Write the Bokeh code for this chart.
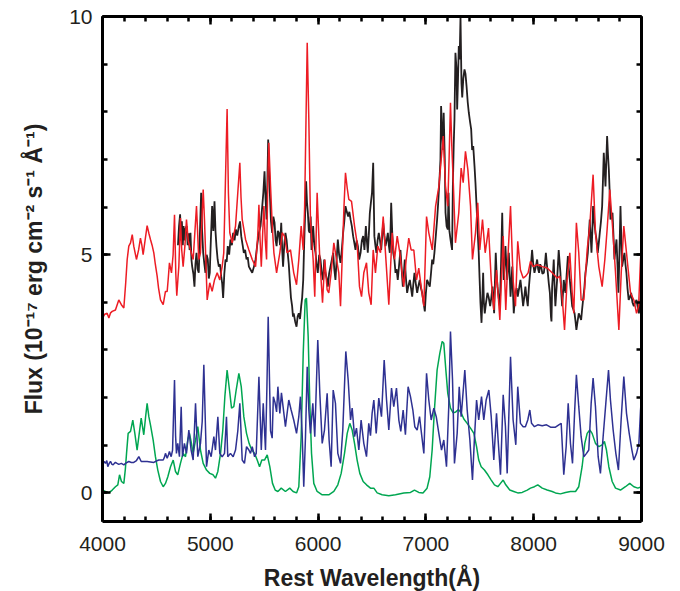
from bokeh.plotting import figure
from bokeh.models import LinearAxis, FixedTicker, Range1d
from bokeh.embed import file_html
from bokeh.resources import INLINE

# ---------------- data ----------------
red_wl = [4000, 4020, 4043, 4059, 4075, 4090, 4120, 4151, 4175, 4198, 4215, 4229, 4244, 4260, 4276, 4290,
          4315, 4335, 4352, 4365, 4377, 4395, 4414, 4430, 4445, 4460, 4476, 4490, 4507, 4520, 4538, 4563,
          4584, 4600, 4610, 4621, 4640, 4655, 4668, 4680, 4689, 4700, 4708, 4715, 4723, 4735, 4748, 4765,
          4779, 4795, 4816, 4841, 4872, 4893, 4909, 4934, 4946, 4971, 4995, 5017, 5039, 5064, 5088, 5110,
          5125, 5140, 5156, 5168, 5181, 5203, 5234, 5255, 5274, 5285, 5296, 5327, 5358, 5389, 5420, 5440,
          5451, 5462, 5473, 5485, 5497, 5510, 5522, 5533, 5543, 5559, 5575, 5590, 5615, 5645, 5667, 5688,
          5713, 5744, 5774, 5800, 5821, 5843, 5862, 5875, 5883, 5899, 5914, 5929, 5954, 5969, 5980, 5991,
          6003, 6016, 6041, 6062, 6084, 6099, 6121, 6146, 6171, 6192, 6208, 6223, 6240, 6254, 6270, 6285,
          6310, 6338, 6362, 6384, 6403, 6424, 6449, 6470, 6492, 6511, 6532, 6554, 6579, 6604, 6625, 6656,
          6687, 6709, 6734, 6758, 6779, 6795, 6817, 6841, 6863, 6888, 6913, 6934, 6956, 6981, 7006, 7027,
          7059, 7090, 7120, 7142, 7161, 7182, 7203, 7215, 7228, 7240, 7253, 7274, 7305, 7327, 7346, 7367,
          7389, 7414, 7432, 7460, 7481, 7500, 7525, 7550, 7581, 7606, 7630, 7655, 7686, 7717, 7741, 7763,
          7785, 7809, 7831, 7852, 7877, 7902, 7926, 7948, 7970, 7995, 8032, 8079, 8125, 8171, 8217, 8242,
          8264, 8286, 8310, 8335, 8357, 8372, 8396, 8418, 8440, 8465, 8496, 8520, 8551, 8573, 8604, 8635,
          8660, 8681, 8706, 8731, 8759, 8790, 8812, 8836, 8867, 8898, 8929, 8954, 8973, 8991, 9000]
red_flux = [3.67, 3.75, 3.77, 3.67, 3.78, 3.81, 3.84, 4.05, 3.95, 3.88, 4.40, 4.90, 5.18, 5.25, 5.42, 5.18,
            4.90, 5.10, 5.35, 5.20, 5.00, 5.30, 5.61, 5.45, 5.32, 5.20, 5.04, 4.80, 4.55, 4.30, 4.05, 3.95,
            4.23, 4.23, 4.50, 4.83, 4.62, 5.00, 5.84, 4.60, 4.14, 4.50, 4.75, 5.20, 5.77, 5.10, 4.75, 5.20,
            5.74, 5.30, 5.10, 4.90, 6.02, 4.90, 5.04, 6.37, 5.74, 4.05, 4.41, 4.23, 4.47, 4.62, 4.47, 4.75,
            5.04, 6.50, 8.06, 6.30, 5.46, 5.25, 5.60, 6.30, 6.93, 6.20, 5.74, 5.32, 5.10, 4.90, 4.75, 5.40,
            6.05, 5.30, 4.75, 5.40, 6.02, 5.30, 4.90, 6.50, 7.35, 6.43, 5.60, 5.04, 4.62, 5.04, 5.46, 5.39,
            5.04, 5.10, 4.62, 4.37, 4.90, 5.60, 5.10, 6.00, 7.14, 9.45, 7.84, 5.74, 4.90, 4.12, 5.20, 6.30,
            5.60, 4.90, 3.99, 4.90, 4.26, 4.20, 4.62, 5.25, 4.90, 4.62, 3.92, 4.90, 6.00, 6.72, 6.40, 6.16,
            6.12, 5.60, 5.25, 4.33, 4.12, 4.62, 4.83, 4.20, 3.95, 5.10, 4.62, 5.18, 5.04, 5.80, 5.04, 3.95,
            5.46, 4.90, 5.39, 5.04, 4.62, 4.33, 4.90, 5.35, 5.10, 5.10, 4.47, 4.72, 4.33, 3.92, 5.80, 5.46,
            5.10, 6.02, 6.43, 7.00, 7.49, 6.43, 6.02, 7.00, 8.19, 7.30, 6.58, 5.25, 5.88, 6.82, 6.51, 7.17,
            6.79, 6.02, 4.90, 5.46, 6.09, 5.10, 5.74, 5.04, 5.56, 4.47, 3.84, 4.68, 3.63, 5.39, 3.84, 5.04,
            6.02, 4.47, 3.92, 5.28, 4.68, 4.51, 4.55, 4.62, 4.86, 4.75, 4.79, 4.75, 4.72, 4.62, 4.51, 4.55,
            4.12, 3.42, 4.47, 5.04, 4.20, 3.77, 5.67, 5.04, 4.05, 4.05, 5.10, 5.60, 6.68, 5.46, 4.75, 4.33,
            4.90, 5.53, 6.37, 5.60, 4.62, 3.42, 4.62, 5.60, 4.90, 4.20, 4.05, 3.77, 3.92, 4.90, 5.18]

black_wl = [4700, 4710, 4720, 4728, 4736, 4745, 4752, 4760, 4770, 4780, 4790, 4800, 4808, 4816, 4825, 4832,
            4843, 4853, 4862, 4872, 4882, 4893, 4903, 4915, 4924, 4934, 4945, 4955, 4966, 4977, 4986, 4995,
            5005, 5017, 5028, 5039, 5048, 5057, 5068, 5079, 5090, 5101, 5110, 5119, 5130, 5141, 5152, 5162,
            5175, 5187, 5200, 5212, 5225, 5237, 5250, 5265, 5276, 5287, 5300, 5311, 5323, 5336, 5347, 5358,
            5370, 5389, 5405, 5420, 5435, 5451, 5466, 5482, 5492, 5503, 5512, 5522, 5530, 5537, 5545, 5552,
            5563, 5574, 5585, 5596, 5606, 5615, 5626, 5636, 5647, 5658, 5667, 5675, 5686, 5697, 5708, 5718,
            5728, 5737, 5748, 5759, 5767, 5774, 5787, 5800, 5810, 5821, 5832, 5843, 5852, 5862, 5868, 5874,
            5882, 5889, 5897, 5905, 5914, 5923, 5931, 5939, 5947, 5954, 5965, 5976, 5986, 5997, 6010, 6022,
            6035, 6047, 6057, 6068, 6080, 6090, 6102, 6115, 6128, 6140, 6150, 6161, 6172, 6183, 6195, 6208,
            6220, 6232, 6243, 6254, 6266, 6279, 6290, 6301, 6313, 6325, 6336, 6347, 6358, 6369, 6381, 6394,
            6406, 6418, 6430, 6443, 6452, 6461, 6470, 6480, 6490, 6500, 6511, 6522, 6531, 6541, 6552, 6563,
            6574, 6585, 6595, 6604, 6615, 6625, 6636, 6647, 6656, 6665, 6672, 6678, 6687, 6697, 6708, 6718,
            6728, 6739, 6752, 6764, 6775, 6786, 6795, 6804, 6815, 6826, 6838, 6851, 6862, 6873, 6884, 6894,
            6906, 6919, 6931, 6943, 6954, 6965, 6978, 6990, 7000, 7011, 7024, 7036, 7047, 7058, 7068, 7079,
            7092, 7104, 7114, 7126, 7135, 7141, 7150, 7160, 7165, 7175, 7182, 7192, 7203, 7210, 7218, 7228,
            7236, 7243, 7250, 7258, 7265, 7274, 7284, 7290, 7298, 7305, 7313, 7321, 7330, 7337, 7347, 7358,
            7367, 7377, 7388, 7398, 7409, 7420, 7429, 7439, 7451, 7460, 7470, 7480, 7490, 7498, 7506, 7516,
            7524, 7531, 7538, 7546, 7558, 7571, 7583, 7596, 7607, 7618, 7626, 7633, 7640, 7648, 7656, 7664,
            7675, 7686, 7697, 7708, 7715, 7722, 7730, 7738, 7746, 7754, 7761, 7769, 7777, 7785, 7793, 7801,
            7808, 7815, 7823, 7831, 7842, 7852, 7865, 7877, 7890, 7902, 7912, 7923, 7934, 7945, 7955, 7964,
            7975, 7985, 7996, 8007, 8020, 8032, 8041, 8050, 8060, 8069, 8081, 8094, 8104, 8113, 8122, 8131,
            8140, 8150, 8160, 8165, 8171, 8179, 8186, 8194, 8201, 8209, 8217, 8225, 8232, 8240, 8248, 8256,
            8264, 8272, 8279, 8287, 8295, 8306, 8317, 8326, 8335, 8346, 8357, 8368, 8379, 8388, 8396, 8407,
            8418, 8429, 8440, 8449, 8458, 8470, 8480, 8491, 8502, 8511, 8520, 8528, 8536, 8544, 8551, 8562,
            8573, 8584, 8594, 8604, 8613, 8624, 8635, 8643, 8650, 8658, 8666, 8674, 8681, 8689, 8697, 8705,
            8712, 8722, 8731, 8740, 8749, 8758, 8768, 8777, 8786, 8795, 8805, 8812, 8820, 8831, 8842, 8851,
            8860, 8870, 8881, 8892, 8904, 8916, 8929, 8941, 8954, 8965, 8976, 8988, 9000]
black_flux = [5.20, 5.60, 5.85, 5.30, 5.70, 5.20, 5.60, 5.30, 5.55, 5.60, 5.20, 5.45, 5.10, 5.46, 4.90, 4.75,
              4.60, 4.33, 4.80, 5.04, 4.70, 4.62, 5.40, 6.30, 5.50, 5.04, 4.80, 4.62, 5.00, 4.90, 4.50, 4.62,
              5.30, 6.02, 5.50, 6.12, 5.50, 5.18, 4.90, 4.75, 4.80, 4.55, 4.40, 4.09, 4.60, 4.90, 4.85, 5.18,
              5.00, 5.32, 5.20, 5.46, 5.30, 5.53, 5.40, 5.60, 5.70, 5.39, 5.20, 5.04, 5.10, 4.90, 4.95, 4.75,
              4.70, 4.62, 4.75, 4.90, 5.20, 5.46, 5.60, 6.02, 6.30, 6.75, 6.20, 5.74, 6.60, 7.42, 6.80, 6.30,
              5.70, 5.46, 5.80, 5.67, 5.30, 5.18, 5.50, 5.46, 5.20, 5.67, 5.10, 4.75, 5.20, 5.46, 5.30, 5.04,
              4.80, 4.47, 4.10, 3.92, 3.70, 3.77, 3.60, 3.49, 3.70, 3.77, 3.65, 3.92, 4.10, 4.47, 5.00, 5.46,
              6.00, 6.54, 6.10, 5.88, 5.50, 5.46, 5.80, 5.10, 5.30, 5.60, 5.20, 5.04, 4.80, 4.62, 5.00, 4.90,
              4.60, 4.47, 4.90, 4.62, 4.50, 4.33, 4.60, 4.75, 4.90, 5.04, 4.70, 4.47, 4.90, 5.32, 5.00, 4.83,
              5.10, 5.46, 5.70, 6.02, 5.90, 5.80, 5.90, 5.74, 5.60, 5.39, 5.25, 5.10, 5.30, 5.18, 4.90, 5.04,
              5.30, 5.39, 5.10, 5.60, 5.30, 5.04, 5.40, 5.88, 6.10, 6.30, 6.93, 5.39, 5.20, 5.04, 5.30, 5.46,
              5.30, 5.10, 5.40, 5.67, 5.40, 5.18, 5.30, 5.46, 5.20, 5.04, 5.50, 6.09, 5.50, 5.04, 4.90, 4.62,
              4.70, 4.47, 4.80, 5.10, 4.70, 4.33, 4.60, 4.90, 4.50, 4.20, 4.35, 4.47, 4.30, 4.12, 4.40, 4.62,
              4.40, 4.20, 4.35, 4.47, 4.30, 4.20, 4.00, 3.81, 4.20, 4.47, 4.40, 4.33, 4.60, 4.90, 4.80, 5.04,
              5.40, 5.74, 6.09, 6.58, 7.00, 8.12, 7.60, 7.20, 7.98, 7.00, 5.88, 5.60, 5.53, 6.30, 5.50, 5.32,
              5.20, 5.10, 6.43, 7.30, 7.84, 9.24, 8.90, 8.05, 8.70, 9.38, 9.10, 10.0, 8.60, 8.30, 8.70, 8.89,
              8.80, 8.54, 8.20, 7.98, 7.80, 7.63, 7.20, 7.28, 6.86, 6.50, 6.02, 5.50, 5.04, 4.50, 3.99, 3.57,
              4.10, 4.62, 4.00, 3.77, 4.00, 4.20, 4.10, 3.92, 4.10, 4.33, 4.00, 3.77, 4.40, 5.04, 4.60, 4.33,
              4.10, 3.92, 4.80, 5.88, 5.00, 4.47, 4.80, 5.18, 4.80, 4.47, 4.70, 5.04, 4.60, 4.12, 4.40, 4.75,
              4.20, 3.77, 4.00, 4.20, 4.30, 4.12, 4.30, 4.47, 4.20, 3.92, 4.10, 4.33, 4.10, 3.92, 4.30, 4.55,
              4.80, 5.10, 4.80, 4.62, 4.75, 4.90, 4.70, 4.62, 4.80, 4.75, 4.60, 4.62, 4.80, 5.04, 4.80, 4.62,
              4.40, 4.20, 3.70, 3.60, 4.33, 4.60, 4.90, 4.30, 3.92, 4.20, 4.47, 4.80, 5.10, 4.85, 4.62, 4.20,
              3.92, 4.20, 4.47, 4.30, 4.20, 4.60, 4.97, 4.70, 4.47, 4.20, 3.92, 3.85, 3.77, 3.60, 3.42, 3.60,
              3.77, 3.70, 3.63, 3.85, 4.05, 4.30, 4.62, 4.80, 5.04, 5.40, 5.74, 5.40, 5.04, 5.50, 6.02, 5.70,
              5.46, 5.30, 5.04, 5.25, 5.46, 5.70, 6.02, 6.60, 7.14, 6.80, 6.43, 7.00, 7.49, 7.10, 6.79, 6.30,
              5.74, 5.80, 5.88, 5.40, 4.90, 5.10, 5.32, 4.80, 4.20, 5.00, 6.02, 5.40, 4.75, 4.90, 5.04, 4.80,
              4.62, 4.30, 4.05, 4.10, 4.20, 4.00, 3.92, 4.00, 4.05, 3.90, 3.77, 4.00, 4.33]

blue_wl = [4000, 4015, 4028, 4040, 4049, 4062, 4074, 4088, 4099, 4110, 4120, 4135, 4151, 4175, 4198, 4220,
           4244, 4268, 4290, 4315, 4337, 4359, 4385, 4414, 4445, 4476, 4500, 4522, 4545, 4563, 4575, 4584,
           4600, 4612, 4621, 4637, 4650, 4668, 4678, 4686, 4698, 4714, 4730, 4742, 4760, 4779, 4801, 4822,
           4841, 4863, 4884, 4909, 4925, 4940, 4965, 4986, 5008, 5033, 5048, 5070, 5088, 5110, 5132, 5150,
           5162, 5187, 5212, 5234, 5255, 5274, 5296, 5317, 5336, 5358, 5373, 5389, 5411, 5426, 5451, 5473,
           5491, 5512, 5525, 5537, 5559, 5574, 5585, 5600, 5615, 5627, 5645, 5660, 5675, 5697, 5728, 5750,
           5774, 5800, 5821, 5836, 5852, 5867, 5883, 5899, 5914, 5929, 5951, 5969, 5997, 6016, 6038, 6059,
           6084, 6102, 6121, 6140, 6161, 6183, 6208, 6229, 6257, 6279, 6301, 6316, 6338, 6356, 6378, 6399,
           6424, 6449, 6470, 6486, 6501, 6517, 6539, 6563, 6588, 6613, 6635, 6656, 6681, 6702, 6727, 6749,
           6767, 6789, 6810, 6835, 6857, 6879, 6897, 6919, 6941, 6959, 6981, 7006, 7027, 7049, 7074, 7096,
           7120, 7145, 7166, 7191, 7212, 7228, 7247, 7265, 7290, 7309, 7327, 7337, 7361, 7383, 7408, 7432,
           7451, 7470, 7490, 7516, 7537, 7559, 7584, 7606, 7630, 7655, 7670, 7692, 7717, 7738, 7754, 7785,
           7809, 7834, 7852, 7877, 7902, 7923, 7945, 7964, 7980, 8007, 8038, 8079, 8119, 8156, 8202, 8233,
           8255, 8279, 8301, 8320, 8341, 8360, 8379, 8396, 8418, 8440, 8465, 8490, 8511, 8533, 8551, 8573,
           8598, 8619, 8644, 8669, 8694, 8712, 8737, 8762, 8786, 8811, 8836, 8861, 8886, 8911, 8929, 8954,
           8976, 8991, 9000]
blue_flux = [0.59, 0.66, 0.62, 0.68, 0.55, 0.62, 0.66, 0.60, 0.59, 0.62, 0.64, 0.62, 0.60, 0.62, 0.59, 0.63,
             0.66, 0.64, 0.64, 0.68, 0.76, 0.66, 0.66, 0.66, 0.65, 0.64, 0.67, 0.69, 0.69, 0.69, 0.75, 0.83,
             0.73, 0.80, 0.87, 0.76, 0.90, 2.37, 1.20, 0.83, 1.04, 0.76, 1.81, 0.76, 1.04, 0.83, 1.32, 0.90,
             0.69, 1.88, 0.76, 1.04, 1.50, 2.69, 0.55, 0.90, 0.76, 1.18, 0.90, 1.60, 0.83, 0.76, 0.83, 1.60,
             0.76, 0.83, 0.76, 0.90, 1.30, 1.88, 0.69, 0.62, 0.97, 0.90, 0.83, 0.97, 0.76, 0.83, 2.44, 0.90,
             1.88, 0.90, 2.20, 3.70, 1.30, 1.15, 2.02, 1.90, 1.70, 2.23, 1.67, 2.10, 1.81, 1.39, 1.95, 1.74,
             1.53, 1.25, 1.60, 2.02, 1.25, 0.13, 1.18, 2.65, 1.74, 1.25, 1.88, 1.18, 3.21, 2.09, 1.04, 1.32,
             2.09, 1.11, 0.55, 2.16, 1.88, 0.83, 0.62, 1.32, 2.97, 2.37, 1.53, 1.78, 1.18, 1.36, 0.90, 1.53,
             1.04, 0.76, 1.46, 1.20, 1.67, 1.95, 1.25, 1.99, 1.60, 2.79, 1.95, 1.32, 2.20, 1.81, 2.20, 1.53,
             1.29, 1.74, 1.22, 2.23, 2.02, 1.74, 1.39, 1.32, 1.60, 1.25, 0.83, 2.51, 1.95, 1.53, 1.78, 1.60,
             1.25, 0.90, 1.11, 0.55, 1.81, 3.39, 2.37, 0.62, 1.25, 2.23, 1.60, 1.88, 2.58, 1.74, 1.11, 0.27,
             1.18, 1.95, 1.53, 2.02, 1.53, 1.95, 2.16, 1.60, 0.69, 1.67, 1.11, 0.38, 2.06, 1.39, 0.41, 2.86,
             1.53, 1.01, 2.23, 1.46, 1.39, 1.39, 1.53, 1.74, 1.46, 1.39, 1.43, 1.41, 1.43, 1.38, 1.38, 1.43,
             1.46, 0.38, 0.97, 1.88, 1.04, 0.62, 1.67, 2.48, 1.81, 1.18, 0.76, 0.83, 0.90, 1.88, 2.41, 1.81,
             0.76, 0.41, 1.18, 1.88, 2.58, 1.95, 1.32, 0.83, 0.48, 1.53, 2.44, 1.67, 1.25, 0.90, 0.69, 0.83,
             1.04, 1.74, 2.02]

green_wl = [4000, 4028, 4059, 4090, 4120, 4142, 4158, 4176, 4198, 4212, 4223, 4238, 4260, 4281, 4300, 4321,
            4337, 4359, 4383, 4400, 4414, 4430, 4445, 4470, 4491, 4513, 4538, 4563, 4584, 4606, 4631, 4656,
            4677, 4698, 4723, 4748, 4770, 4791, 4807, 4825, 4841, 4863, 4884, 4909, 4934, 4965, 4995, 5026,
            5048, 5070, 5095, 5116, 5135, 5156, 5178, 5197, 5218, 5240, 5265, 5287, 5311, 5336, 5360, 5385,
            5411, 5435, 5457, 5478, 5503, 5528, 5552, 5577, 5602, 5627, 5658, 5697, 5737, 5768, 5800, 5821,
            5843, 5862, 5880, 5892, 5908, 5923, 5939, 5960, 5991, 6038, 6099, 6146, 6183, 6214, 6245, 6270,
            6294, 6316, 6338, 6362, 6387, 6418, 6449, 6486, 6517, 6548, 6594, 6656, 6718, 6795, 6857, 6894,
            6934, 6973, 7011, 7036, 7058, 7079, 7104, 7129, 7151, 7166, 7185, 7203, 7228, 7253, 7277, 7302,
            7327, 7352, 7383, 7414, 7445, 7470, 7490, 7513, 7543, 7575, 7606, 7636, 7667, 7692, 7717, 7741,
            7778, 7815, 7852, 7893, 7940, 7970, 8007, 8038, 8079, 8125, 8171, 8202, 8248, 8295, 8341, 8388,
            8418, 8449, 8474, 8496, 8520, 8542, 8573, 8604, 8635, 8656, 8675, 8697, 8728, 8759, 8805, 8851,
            8891, 8929, 8966, 9000]
green_flux = [0.06, 0.03, 0.00, 0.06, 0.13, 0.17, 0.38, 0.24, 0.20, 0.50, 0.83, 1.25, 1.29, 1.53, 1.25, 0.90,
              1.18, 1.57, 1.22, 1.60, 1.88, 1.60, 1.43, 1.11, 0.76, 0.48, 0.24, 0.13, 0.20, 0.34, 0.55, 0.69,
              0.45, 0.38, 0.62, 0.83, 0.76, 1.11, 1.25, 1.04, 0.83, 1.11, 1.39, 0.90, 0.62, 0.48, 0.41, 0.38,
              0.31, 0.45, 0.83, 1.32, 2.02, 2.58, 2.16, 1.78, 1.81, 2.16, 2.51, 2.23, 1.60, 1.25, 1.04, 0.90,
              0.83, 0.69, 0.55, 0.69, 0.69, 0.80, 0.55, 0.20, 0.06, 0.03, 0.10, 0.03, 0.10, 0.03, 0.00, 0.13,
              1.18, 2.93, 4.05, 4.09, 3.28, 1.88, 0.83, 0.20, 0.03, -0.04, -0.04, 0.03, 0.17, 0.41, 0.83, 1.25,
              1.46, 1.32, 1.04, 0.69, 0.41, 0.24, 0.17, 0.10, 0.10, 0.00, -0.04, -0.06, -0.04, 0.00, 0.01, 0.06,
              0.01, 0.00, 0.10, 0.34, 0.90, 1.74, 2.58, 2.93, 3.18, 3.14, 2.58, 2.09, 1.78, 1.68, 1.70, 1.75,
              1.68, 1.55, 1.46, 1.36, 1.25, 0.97, 0.69, 0.55, 0.48, 0.38, 0.27, 0.17, 0.13, 0.20, 0.27, 0.17,
              0.06, 0.03, 0.00, 0.01, 0.06, 0.10, 0.13, 0.17, 0.10, 0.06, 0.03, 0.00, -0.02, 0.01, 0.03, 0.03,
              0.13, 0.55, 1.04, 1.25, 1.32, 1.25, 1.04, 0.97, 1.01, 1.08, 0.90, 0.55, 0.24, 0.10, 0.06, 0.13,
              0.20, 0.13, 0.10, 0.13]

x_major = [4000, 5000, 6000, 7000, 8000, 9000]
x_minor = list(range(4000, 9001, 200))
y_major = [0, 5, 10]
y_minor = list(range(0, 11))

FONT = "Liberation Sans"

p = figure(frame_width=539, frame_height=505,
           x_range=Range1d(4000, 9000), y_range=Range1d(-0.6, 10),
           output_backend="svg", toolbar_location=None,
           min_border_left=102, min_border_right=31, min_border_top=16, min_border_bottom=62,
           background_fill_color="white", border_fill_color="white")
p.xgrid.grid_line_color = None
p.ygrid.grid_line_color = None
p.outline_line_color = None

p.line(black_wl, black_flux, line_color="#231f20", line_width=1.8)
p.line(red_wl, red_flux, line_color="#ed1c24", line_width=1.5)
p.line(green_wl, green_flux, line_color="#00a651", line_width=1.5)
p.line(blue_wl, blue_flux, line_color="#2e3192", line_width=1.5)


def style(ax, show_labels):
    ax.axis_line_width = 3
    ax.axis_line_color = "black"
    ax.major_tick_in = 8
    ax.major_tick_out = 0
    ax.minor_tick_in = 5
    ax.minor_tick_out = 0
    ax.major_tick_line_width = 2.5
    ax.minor_tick_line_width = 2.5
    ax.major_label_text_font = FONT
    if show_labels:
        ax.major_label_text_font_size = "21px"
        ax.major_label_text_color = "#231f20"
        ax.major_label_standoff = 10
    else:
        ax.major_label_text_font_size = "1px"
        ax.major_label_text_color = None
        ax.major_label_standoff = 0
    ax.axis_label_text_font = FONT
    ax.axis_label_text_font_style = "bold"
    ax.axis_label_text_font_size = "23px"
    ax.axis_label_text_color = "#231f20"


p.xaxis.ticker = FixedTicker(ticks=x_major, minor_ticks=x_minor)
p.yaxis.ticker = FixedTicker(ticks=y_major, minor_ticks=y_minor)
style(p.xaxis[0], True)
style(p.yaxis[0], True)
p.xaxis.major_label_standoff = 15
p.xaxis.axis_label = "Rest Wavelength(Å)"
p.yaxis.axis_label = "Flux (10⁻¹⁷ erg cm⁻² s⁻¹ Å⁻¹)"
p.xaxis.axis_label_standoff = 11
p.yaxis.axis_label_standoff = 19

top = LinearAxis(ticker=FixedTicker(ticks=x_major, minor_ticks=x_minor))
style(top, False)
p.add_layout(top, "above")
right = LinearAxis(ticker=FixedTicker(ticks=y_major, minor_ticks=y_minor))
style(right, False)
p.add_layout(right, "right")

open("out.html", "w").write(file_html(p, INLINE))
